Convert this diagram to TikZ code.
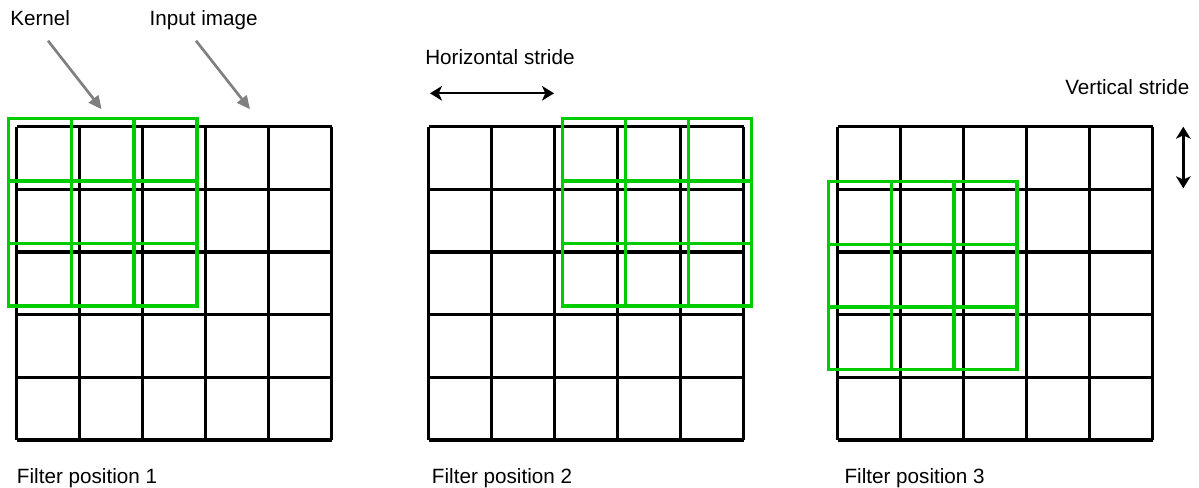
\documentclass[tikz,border=0pt]{standalone}
\usepackage{fontspec}
\setmainfont{Liberation Sans}
\usetikzlibrary{arrows.meta}
\definecolor{kgreen}{RGB}{0,204,0}
\definecolor{agray}{RGB}{128,128,128}
\begin{document}
\begin{tikzpicture}[x=0.75pt,y=-0.75pt,
  gridline/.style={line width=2.4pt,black},
  kernline/.style={line width=2.5pt,kgreen},
  lbl/.style={font=\fontsize{15.5pt}{18pt}\selectfont,inner sep=0pt,anchor=base west},
  grayarrow/.style={line width=2pt,agray,-{Triangle[length=10pt,width=9pt]}},
  stridearrow/.style={line width=1.8pt,black,{Stealth[length=9pt,width=11pt,inset=2.5pt]}-{Stealth[length=9pt,width=11pt,inset=2.5pt]}}]
\useasboundingbox (0,0) rectangle (1199,488);
% input grids
\foreach \gx in {16.5,428.8,837.7}{
  \foreach \i in {0,...,5}{
    \draw[gridline] (\gx+\i*63,126.7) -- (\gx+\i*63,440);
    \draw[gridline] (\gx,126.7+\i*62.66) -- (\gx+315,126.7+\i*62.66);
  }
}
% kernels
\foreach \kx/\ky in {8.3/118.3,562.7/118.3,828.3/181.7}{
  \foreach \i in {0,1,2}{
    \foreach \j in {0,1,2}{
      \draw[kernline] (\kx+\i*62.9,\ky+\j*62.6) rectangle ++(62.9,62.6);
    }
  }
}
% labels
\node[lbl] (kernel) at (10,26) {Kernel};
\node[lbl] (input) at (149.3,26) {Input image};
\node[lbl] (hstride) at (425,65) {Horizontal stride};
\node[lbl] (vstride) at (1065,95) {Vertical stride};
\node[lbl] (f1) at (16.7,483) {Filter position 1};
\node[lbl] (f2) at (431.7,483) {Filter position 2};
\node[lbl] (f3) at (844.3,483) {Filter position 3};
% arrows
\coordinate (ks) at (48,40.7);
\coordinate (ke) at (101.7,109.3);
\coordinate (is) at (196,40.7);
\coordinate (ie) at (250,109.3);
\draw[grayarrow] (ks) -- (ke);
\draw[grayarrow] (is) -- (ie);
\coordinate (hl) at (430,93.3);
\coordinate (hr) at (554,93.3);
\draw[stridearrow] (hl) -- (hr);
\coordinate (vt) at (1183.3,126.7);
\coordinate (vb) at (1183.3,188.3);
\draw[stridearrow] (vt) -- (vb);
\end{tikzpicture}
\end{document}
